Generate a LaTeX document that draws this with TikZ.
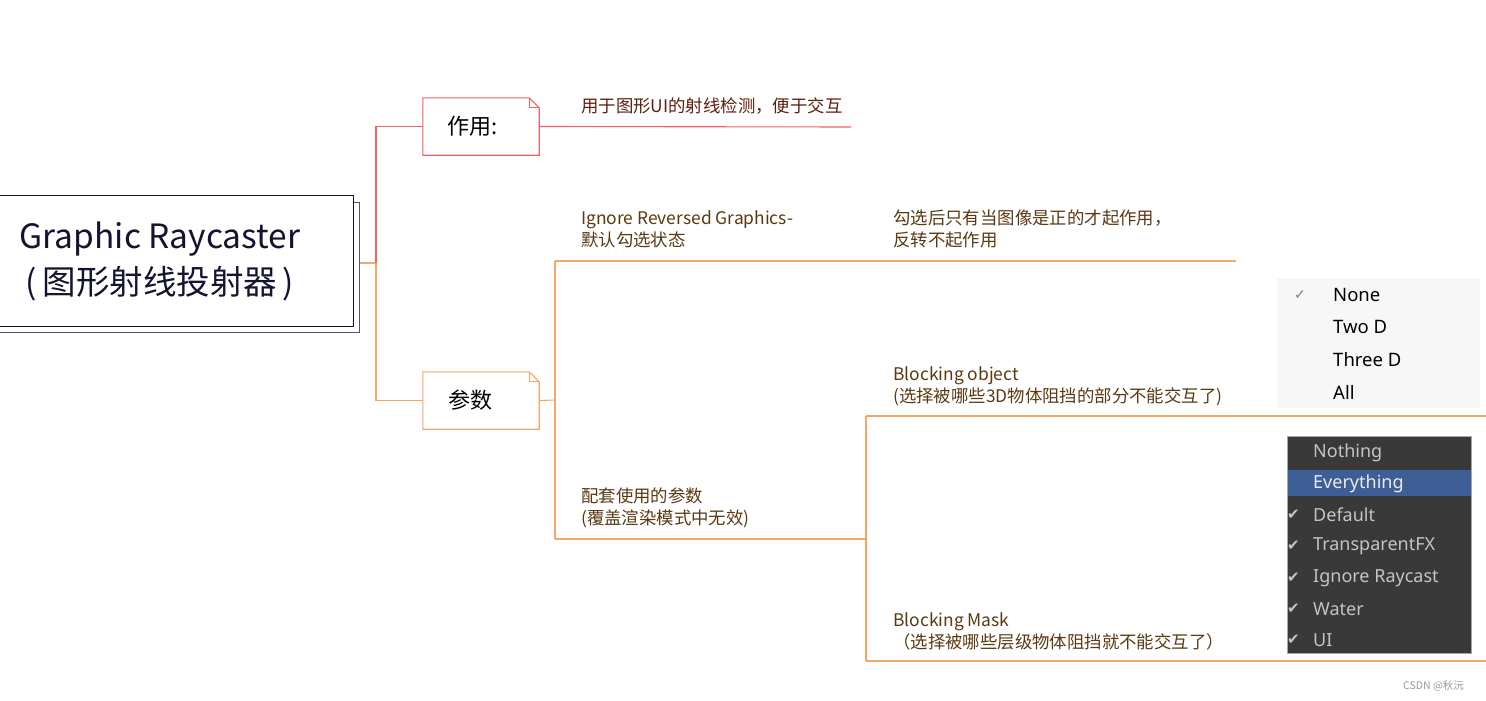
\documentclass[tikz,border=0pt]{standalone}
\usepackage{fontspec}
\setmainfont{Noto Sans CJK SC}
\newfontfamily\uifont{Noto Sans}
\newfontfamily\symfont{DejaVu Sans}
\definecolor{navy}{HTML}{141432}
\definecolor{shadowc}{HTML}{55556A}
\definecolor{redc}{HTML}{F26262}
\definecolor{orangec}{HTML}{F5A767}
\definecolor{redtext}{HTML}{5C1E0E}
\definecolor{browntext}{HTML}{5A3812}
\definecolor{lightbg}{HTML}{F7F7F7}
\definecolor{darkbg}{HTML}{393939}
\definecolor{hilite}{HTML}{3E5F96}
\definecolor{darktext}{HTML}{C4C4C4}
\tikzset{
  redline/.style={draw=redc, line width=1.1pt},
  orangeline/.style={draw=orangec, line width=1.1pt},
  topicbox/.style={minimum width=116pt, minimum height=57pt, inner sep=0pt, font=\fontsize{22}{26}\selectfont, text=black},
  leaf/.style={anchor=north west, align=left, inner sep=0pt, font=\fontsize{17.4}{22}\selectfont, text=browntext},
  lightitem/.style={anchor=west, inner sep=0pt, font=\uifont\fontsize{18.5}{22}\selectfont, text=black},
  darkitem/.style={anchor=west, inner sep=0pt, font=\uifont\fontsize{18}{22}\selectfont, text=darktext},
  darkcheck/.style={anchor=west, inner sep=0pt, font=\symfont\fontsize{15}{16}\selectfont, text=darktext},
}
\begin{document}
\begin{tikzpicture}[x=1pt,y=-1pt]
\useasboundingbox (0,0) rectangle (1486,701);
\clip (0,0) rectangle (1486,701);
% main topic
\node[draw=shadowc, fill=white, line width=1.2pt, minimum width=380pt, minimum height=130pt, anchor=north east, inner sep=0pt] (mainsh) at (360,202) {};
\node[draw=navy, fill=white, line width=1.2pt, minimum width=374pt, minimum height=131pt, anchor=north east, inner sep=0pt] (main) at (354,195) {};
\node[align=center, inner sep=0pt, text=navy, font=\fontsize{33.5}{46}\selectfont] (title) at (160,261) {Graphic Raycaster\\(\,图形射线投射器\,)};
% junctions
\coordinate (j1) at (376,263);
\coordinate (j2) at (555,400);
\coordinate (a1) at (555,261);
\coordinate (a1end) at (1236,261);
\coordinate (b1) at (555,539);
\coordinate (j3) at (866,539);
\coordinate (c1) at (866,416);
\coordinate (c1end) at (1486,416);
\coordinate (d1) at (866,661);
\coordinate (d1end) at (1486,661);
\coordinate (r1end) at (851,127);
% topic boxes
\node[topicbox] (zy) at (481,126.5) {};
\node[topicbox] (cs) at (481,400.5) {};
\draw[redline, fill=white] (zy.north west) -- ([xshift=-10pt]zy.north east) -- ([yshift=-10pt]zy.north east) -- (zy.south east) -- (zy.south west) -- cycle;
\draw[redline] ([xshift=-10pt]zy.north east) -- ([xshift=-10pt,yshift=-10pt]zy.north east) -- ([yshift=-10pt]zy.north east);
\draw[orangeline, fill=white] (cs.north west) -- ([xshift=-10pt]cs.north east) -- ([yshift=-10pt]cs.north east) -- (cs.south east) -- (cs.south west) -- cycle;
\draw[orangeline] ([xshift=-10pt]cs.north east) -- ([xshift=-10pt,yshift=-10pt]cs.north east) -- ([yshift=-10pt]cs.north east);
\node[topicbox] (zyt) at (zy) {\hspace*{-16pt}作用:};
\node[topicbox] (cst) at (cs) {\hspace*{-22pt}参数};
% connectors
\draw[orangeline] (mainsh.east |- j1) -- (j1);
\draw[redline] (j1) |- (zy.west);
\draw[orangeline] (j1) |- (cs.west);
\draw[redline] (zy.east) -- (r1end);
\draw[orangeline] (cs.east) -- (j2);
\draw[orangeline] (a1) -- (b1);
\draw[orangeline] (a1) -- (a1end);
\draw[orangeline] (b1) -- (j3);
\draw[orangeline] (c1) -- (d1);
\draw[orangeline] (c1) -- (c1end);
\draw[orangeline] (d1) -- (d1end);
% leaf texts
\node[leaf, text=redtext] (t1) at (581,98) {用于图形UI的射线检测，便于交互};
\node[leaf] (t2) at (581,210) {Ignore Reversed Graphics-\\默认勾选状态};
\node[leaf] (t3) at (893,210) {勾选后只有当图像是正的才起作用，\\反转不起作用};
\node[leaf] (t4) at (581,488) {配套使用的参数\\(覆盖渲染模式中无效)};
\node[leaf] (t5) at (893,366) {Blocking object\\(选择被哪些3D物体阻挡的部分不能交互了)};
\node[leaf] (t6) at (893,612) {Blocking Mask\\（选择被哪些层级物体阻挡就不能交互了）};
% light dropdown image
\node[fill=lightbg, minimum width=203pt, minimum height=130pt, anchor=north west, inner sep=0pt] (dd1) at (1277,278) {};
\node[anchor=west, inner sep=0pt, font=\symfont\fontsize{14}{16}\selectfont, text=gray] (chk) at (1294,295) {✓};
\node[lightitem] (i1) at (1333,295) {None};
\node[lightitem] (i2) at (1333,327) {Two D};
\node[lightitem] (i3) at (1333,360) {Three D};
\node[lightitem] (i4) at (1333,392) {All};
% dark dropdown image
\node[fill=darkbg, draw=gray!70, line width=0.6pt, minimum width=184pt, minimum height=217pt, anchor=north west, inner sep=0pt] (dd2) at (1287,436) {};
\fill[hilite] (1287.5,470) rectangle (1470.5,496);
\node[darkitem] (n1) at (1313,453) {Nothing};
\node[darkitem, text=white!92!black] (n2) at (1313,484) {Everything};
\node[darkitem] (n3) at (1313,515) {Default};
\node[darkitem] (n4) at (1313,546) {TransparentFX};
\node[darkitem] (n5) at (1313,578) {Ignore Raycast};
\node[darkitem] (n6) at (1313,609) {Water};
\node[darkitem] (n7) at (1313,640) {UI};
\foreach \yy in {515,546,578,609,640} \node[darkcheck] at (1287,\yy) {✔};
% watermark
\node[anchor=west, inner sep=0pt, text=gray!80, font=\fontsize{10.5}{12}\selectfont] (wm) at (1403,686) {CSDN @秋沅};
\end{tikzpicture}
\end{document}
